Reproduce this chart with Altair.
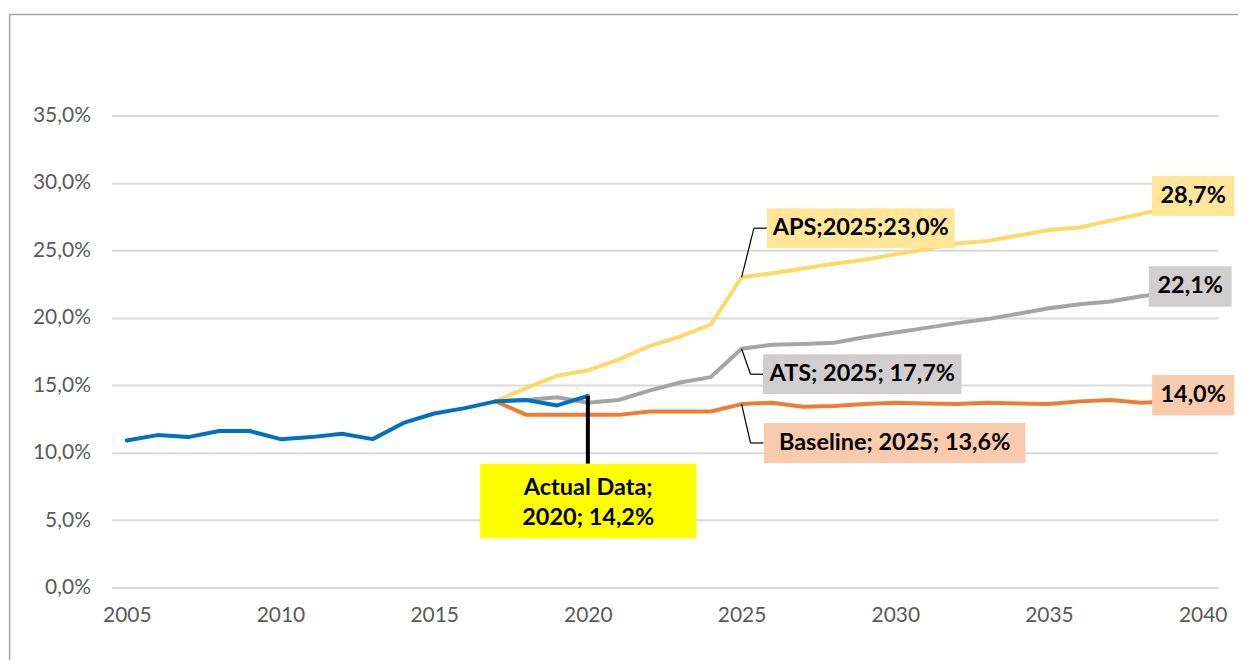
import altair as alt
import pandas as pd

# ---------------- data ----------------
years_actual = list(range(2005, 2021))
actual = [10.9, 11.3, 11.15, 11.6, 11.6, 11.0, 11.15, 11.4, 11.0, 12.2, 12.9, 13.3,
          13.8, 13.9, 13.5, 14.2]

years_proj = list(range(2017, 2041))
baseline = [13.8, 12.8, 12.8, 12.8, 12.8, 13.05, 13.05, 13.05, 13.6, 13.7, 13.4, 13.45,
            13.6, 13.7, 13.65, 13.6, 13.7, 13.65, 13.6, 13.8, 13.9, 13.7, 13.8, 14.0]
ats = [13.8, 13.9, 14.1, 13.7, 13.9, 14.6, 15.2, 15.6, 17.7, 18.0, 18.05, 18.15,
       18.55, 18.9, 19.25, 19.6, 19.9, 20.3, 20.7, 21.0, 21.2, 21.6, 21.9, 22.1]
aps = [13.8, 14.8, 15.7, 16.1, 16.9, 17.9, 18.6, 19.5, 23.0, 23.3, 23.65, 24.0,
       24.3, 24.7, 25.1, 25.5, 25.7, 26.1, 26.5, 26.7, 27.2, 27.7, 28.2, 28.7]

y_ticks = [0, 0.05, 0.10, 0.15, 0.20, 0.25, 0.30, 0.35]
x_ticks = [2005, 2010, 2015, 2020, 2025, 2030, 2035, 2040]

label_aps = "APS;2025;23,0%"
label_ats = "ATS; 2025; 17,7%"
label_base = "Baseline; 2025; 13,6%"
label_actual = ["Actual Data;", "2020; 14,2%"]
end_aps = "28,7%"
end_ats = "22,1%"
end_base = "14,0%"

C_APS = "#FFD966"
C_ATS = "#A5A5A5"
C_BASE = "#ED7D31"
C_ACT = "#0070C0"
F_APS = "#FFE699"
F_ATS = "#D0CECE"
F_BASE = "#F8CBAD"
F_ACT = "#FFFF00"

FONT = "Lato"
LW = 4

xs = alt.Scale(domain=[2004.5, 2040.5], nice=False, zero=False)
ys = alt.Scale(domain=[0, 0.35], nice=False)


def X(field="year"):
    return alt.X(f"{field}:Q", scale=xs, title=None)


def Y(field="v"):
    return alt.Y(f"{field}:Q", scale=ys, title=None)


def series_df(years, vals):
    return pd.DataFrame({"year": years, "v": [v / 100 for v in vals]})


def line(years, vals, color):
    return alt.Chart(series_df(years, vals)).mark_line(
        color=color, strokeWidth=LW, strokeJoin="round", strokeCap="round"
    ).encode(x=X(), y=Y())


def anchor(year, years, vals):
    return pd.DataFrame({"year": [year], "v": [vals[years.index(year)] / 100]})


def box(df, x1, x2, y1, y2, fill):
    return alt.Chart(df).mark_rect(
        fill=fill, xOffset=x1, x2Offset=x2, yOffset=y1, y2Offset=y2
    ).encode(x=X(), x2=alt.X2("year"), y=Y(), y2=alt.Y2("v"))


def text(df, txt, dx, dy, size=23.5, line_height=None):
    kw = dict(dx=dx, dy=dy, fontSize=size, fontWeight="bold", font=FONT,
              color="black", align="center", baseline="middle")
    if line_height:
        kw["lineHeight"] = line_height
    return alt.Chart(df).mark_text(**kw).encode(
        x=X(), y=Y(), text=alt.value(txt))


def seg(df, x1, y1, x2, y2, width=1.2):
    return alt.Chart(df).mark_rule(
        color="black", strokeWidth=width,
        xOffset=x1, yOffset=y1, x2Offset=x2, y2Offset=y2
    ).encode(x=X(), x2=alt.X2("year"), y=Y(), y2=alt.Y2("v"))


# base layer with axes
base = alt.Chart(series_df(years_actual, actual)).mark_line(
    color=C_ACT, strokeWidth=LW, strokeJoin="round", strokeCap="round"
).encode(
    x=alt.X("year:Q", scale=xs, title=None,
            axis=alt.Axis(values=x_ticks, format="d", grid=False, domain=False,
                          ticks=False, labelFont=FONT, labelFontSize=21,
                          labelColor="#595959", labelPadding=17)),
    y=alt.Y("v:Q", scale=ys, title=None,
            axis=alt.Axis(values=y_ticks,
                          labelExpr="replace(format(datum.value, '.1%'), '.', ',')",
                          grid=True, gridColor="#D9D9D9", gridWidth=2,
                          domain=False, ticks=False, labelFont=FONT,
                          labelFontSize=21, labelColor="#595959",
                          labelPadding=21)),
)

a_aps = anchor(2025, years_proj, aps)
a_ats = anchor(2025, years_proj, ats)
a_base = anchor(2025, years_proj, baseline)
a_act = anchor(2020, years_actual, actual)
e_aps = anchor(2040, years_proj, aps)
e_ats = anchor(2040, years_proj, ats)
e_base = anchor(2040, years_proj, baseline)

frame = [
    alt.Chart().mark_rule(color="#A6A6A6", strokeWidth=1.5).encode(
        x=alt.value(-102), x2=alt.value(1300), y=alt.value(-101)),
    alt.Chart().mark_rule(color="#A6A6A6", strokeWidth=1.5).encode(
        x=alt.value(-102), y=alt.value(-101), y2=alt.value(700)),
]

layers = frame + [
    base.mark_line(opacity=0).encode(),  # axes holder
    line(years_proj, aps, C_APS),
    line(years_proj, ats, C_ATS),
    line(years_proj, baseline, C_BASE),
    base,
    # leaders
    seg(a_aps, 0, 0, 12.4, -49.2),
    seg(a_aps, 12.4, -49.2, 25.4, -49.2),
    seg(a_ats, 0, 0, 9, 25.5),
    seg(a_ats, 9, 25.5, 22, 25.5),
    seg(a_base, 0, 0, 9, 39),
    seg(a_base, 9, 39, 22, 39),
    seg(a_act, 0, 0, 0, 68, width=4),
    # boxes
    box(a_aps, 25.4, 213.4, -69.2, -29.2, F_APS),
    box(a_ats, 21.4, 220.4, 5.4, 45.4, F_ATS),
    box(a_base, 22.4, 284.4, 19, 59, F_BASE),
    box(a_act, -108, 108.7, 68, 142.6, F_ACT),
    box(e_aps, -50.7, 31.7, -24.4, 15.6, F_APS),
    box(e_ats, -54, 29, -23.3, 17.4, F_ATS),
    box(e_base, -50.7, 31.7, -23.8, 16.9, F_BASE),
    # texts
    text(a_aps, label_aps, 119.4, -49.2),
    text(a_ats, label_ats, 120.9, 25.4),
    text(a_base, label_base, 153.4, 39),
    text(a_act, label_actual, 0.35, 92, line_height=30),
    text(e_aps, end_aps, -9.5, -4.4),
    text(e_ats, end_ats, -12.5, -3),
    text(e_base, end_base, -9.5, -3.5),
]

chart = alt.layer(*layers).properties(
    width=1108.8, height=473,
    autosize=alt.AutoSizeParams(type="none"),
    padding={"left": 103.6, "top": 107, "right": 20, "bottom": 72},
    background="white",
).configure_view(stroke=None)

chart.save("out.html", embed_options={"renderer": "svg", "actions": False})
